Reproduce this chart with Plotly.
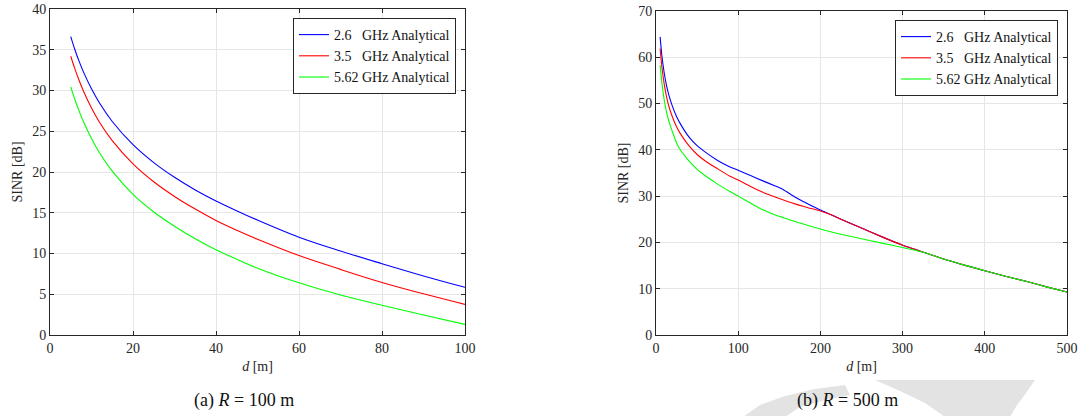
import plotly.graph_objects as go

# ---------- data: panel (a) R = 100 m ----------
d_a = [5, 6, 7, 8, 10, 12, 15, 20, 25, 30, 35, 40, 45, 50, 60, 70, 80, 90, 100]
sinr_a_26 = [36.6, 35.0, 33.6, 32.35, 30.2, 28.4, 26.2, 23.35, 21.15, 19.35, 17.8, 16.45, 15.25, 14.1, 12.0, 10.3, 8.75, 7.25, 5.85]
sinr_a_35 = [34.2, 32.65, 31.25, 30.0, 27.85, 26.05, 23.85, 21.0, 18.8, 17.0, 15.45, 14.05, 12.85, 11.75, 9.75, 8.05, 6.45, 5.05, 3.75]
sinr_a_562 = [30.45, 28.9, 27.5, 26.25, 24.1, 22.3, 20.1, 17.25, 15.1, 13.35, 11.8, 10.45, 9.3, 8.2, 6.4, 4.9, 3.65, 2.45, 1.3]

# ---------- data: panel (b) R = 500 m ----------
d_b = [5, 7, 10, 13, 16, 20, 25, 30, 40, 50, 60, 75, 90, 100, 115, 130, 145, 155, 165, 175, 185,
       200, 210, 225, 250, 275, 300, 315, 330, 350, 375, 400, 425, 450, 475, 500]
sinr_b_26 = [64.4, 60.6, 56.6, 53.7, 51.6, 49.4, 47.2, 45.5, 42.8, 40.9, 39.5, 37.7, 36.3, 35.6, 34.45, 33.3, 32.2, 31.4, 30.25, 29.2, 28.3,
             27.0, 26.2, 25.0, 23.1, 21.2, 19.4, 18.5, 17.6, 16.4, 15.1, 13.9, 12.7, 11.6, 10.4, 9.3]
sinr_b_35 = [61.9, 58.2, 54.2, 51.3, 49.2, 47.1, 45.0, 43.4, 40.9, 39.0, 37.6, 35.9, 34.3, 33.5, 32.1, 30.85, 29.8, 29.15, 28.55, 28.0, 27.5,
             26.8, 26.2, 25.0, 23.1, 21.2, 19.4, 18.5, 17.6, 16.4, 15.1, 13.9, 12.7, 11.6, 10.4, 9.3]
sinr_b_562 = [58.3, 54.7, 50.8, 48.0, 46.0, 43.9, 41.5, 39.9, 37.6, 35.8, 34.4, 32.6, 31.0, 30.0, 28.5, 27.05, 25.95, 25.35, 24.75, 24.2, 23.65,
              22.9, 22.4, 21.75, 20.8, 19.85, 18.9, 18.3, 17.6, 16.4, 15.1, 13.9, 12.7, 11.6, 10.4, 9.3]

labels = ["2.6\u2007\u00a0GHz Analytical", "3.5\u2007\u00a0GHz Analytical", "5.62 GHz Analytical"]
colors = ["#0000FF", "#FF0000", "#00FF00"]

x_ticks_a = [0, 20, 40, 60, 80, 100]
y_ticks_a = [0, 5, 10, 15, 20, 25, 30, 35, 40]
x_ticks_b = [0, 100, 200, 300, 400, 500]
y_ticks_b = [0, 10, 20, 30, 40, 50, 60, 70]

FONT = "Liberation Serif"
AX = "#262626"

W, H = 1084, 416


def px(x):
    return x / W


def py(y):
    return 1 - y / H


fig = go.Figure()
for ys, lab, c in zip([sinr_a_26, sinr_a_35, sinr_a_562], labels, colors):
    fig.add_trace(go.Scatter(x=d_a, y=ys, name=lab, mode="lines",
                             line=dict(color=c, width=1.1, shape="spline", smoothing=1.0),
                             xaxis="x", yaxis="y", legend="legend"))
for ys, lab, c in zip([sinr_b_26, sinr_b_35, sinr_b_562], labels, colors):
    fig.add_trace(go.Scatter(x=d_b, y=ys, name=lab, mode="lines",
                             line=dict(color=c, width=1.1, shape="spline", smoothing=0.6),
                             xaxis="x2", yaxis="y2", legend="legend2"))


def axis_common():
    return dict(showline=True, linecolor=AX, linewidth=1, mirror="ticks",
                ticks="inside", ticklen=4, tickcolor=AX,
                showgrid=True, gridcolor="#e6e6e6", gridwidth=1,
                zeroline=False, automargin=False, ticklabeloverflow="allow",
                tickfont=dict(family=FONT, size=14, color=AX),
                title_font=dict(family=FONT, size=14, color=AX))


xa = axis_common(); xa.update(domain=[px(50), px(465)], range=[0, 100], tickvals=x_ticks_a,
                             anchor="y", title=dict(text="<i>d</i> [m]", standoff=6))
ya = axis_common(); ya.update(domain=[py(335), py(9)], range=[0, 40], tickvals=y_ticks_a,
                             anchor="x", title=dict(text="SINR [dB]", standoff=6))
xb = axis_common(); xb.update(domain=[px(656), px(1067)], range=[0, 500], tickvals=x_ticks_b,
                             anchor="y2", title=dict(text="<i>d</i> [m]", standoff=6))
yb = axis_common(); yb.update(domain=[py(335), py(11)], range=[0, 70], tickvals=y_ticks_b,
                             anchor="x2", title=dict(text="SINR [dB]", standoff=6))

legend_style = dict(bgcolor="white", bordercolor="#262626", borderwidth=1,
                    font=dict(family=FONT, size=14, color="#111111"),
                    xanchor="right", yanchor="top", tracegroupgap=0, itemwidth=30)


def path_from(pts):
    return "M " + " L ".join(f"{px(x):.4f},{py(y):.4f}" for x, y in pts) + " Z"


# light-gray watermark swoosh (decoration)
wm_right = [(875, 380), (1035, 380), (1026, 393), (1017, 405), (1010, 417),
            (945, 417), (925, 403), (900, 391)]
wm_left = [(743, 417), (760, 405), (785, 396), (815, 389), (845, 385),
           (850, 395), (825, 400), (800, 407), (785, 417)]

fig.update_layout(
    width=W, height=H, autosize=False,
    margin=dict(l=0, r=0, t=0, b=0),
    paper_bgcolor="white", plot_bgcolor="white",
    font=dict(family=FONT, color=AX),
    xaxis=xa, yaxis=ya, xaxis2=xb, yaxis2=yb,
    legend=dict(x=px(456), y=py(18), **legend_style),
    legend2=dict(x=px(1058), y=py(20), **legend_style),
    showlegend=True,
    shapes=[
        dict(type="path", xref="paper", yref="paper", path=path_from(wm_right),
             fillcolor="#e3e3e3", line=dict(width=0), layer="below"),
        dict(type="path", xref="paper", yref="paper", path=path_from(wm_left),
             fillcolor="#e3e3e3", line=dict(width=0), layer="below"),
    ],
    annotations=[
        dict(text="(a) <i>R</i> = 100 m", x=px(244), y=py(400), xref="paper", yref="paper",
             showarrow=False, font=dict(family=FONT, size=18, color="#111111"),
             xanchor="center", yanchor="middle"),
        dict(text="(b) <i>R</i> = 500 m", x=px(847), y=py(400), xref="paper", yref="paper",
             showarrow=False, font=dict(family=FONT, size=18, color="#111111"),
             xanchor="center", yanchor="middle"),
    ],
)

fig.write_html("out.html", config={"displayModeBar": False},
               post_script="document.body.style.margin='0';document.body.style.overflow='hidden';")
